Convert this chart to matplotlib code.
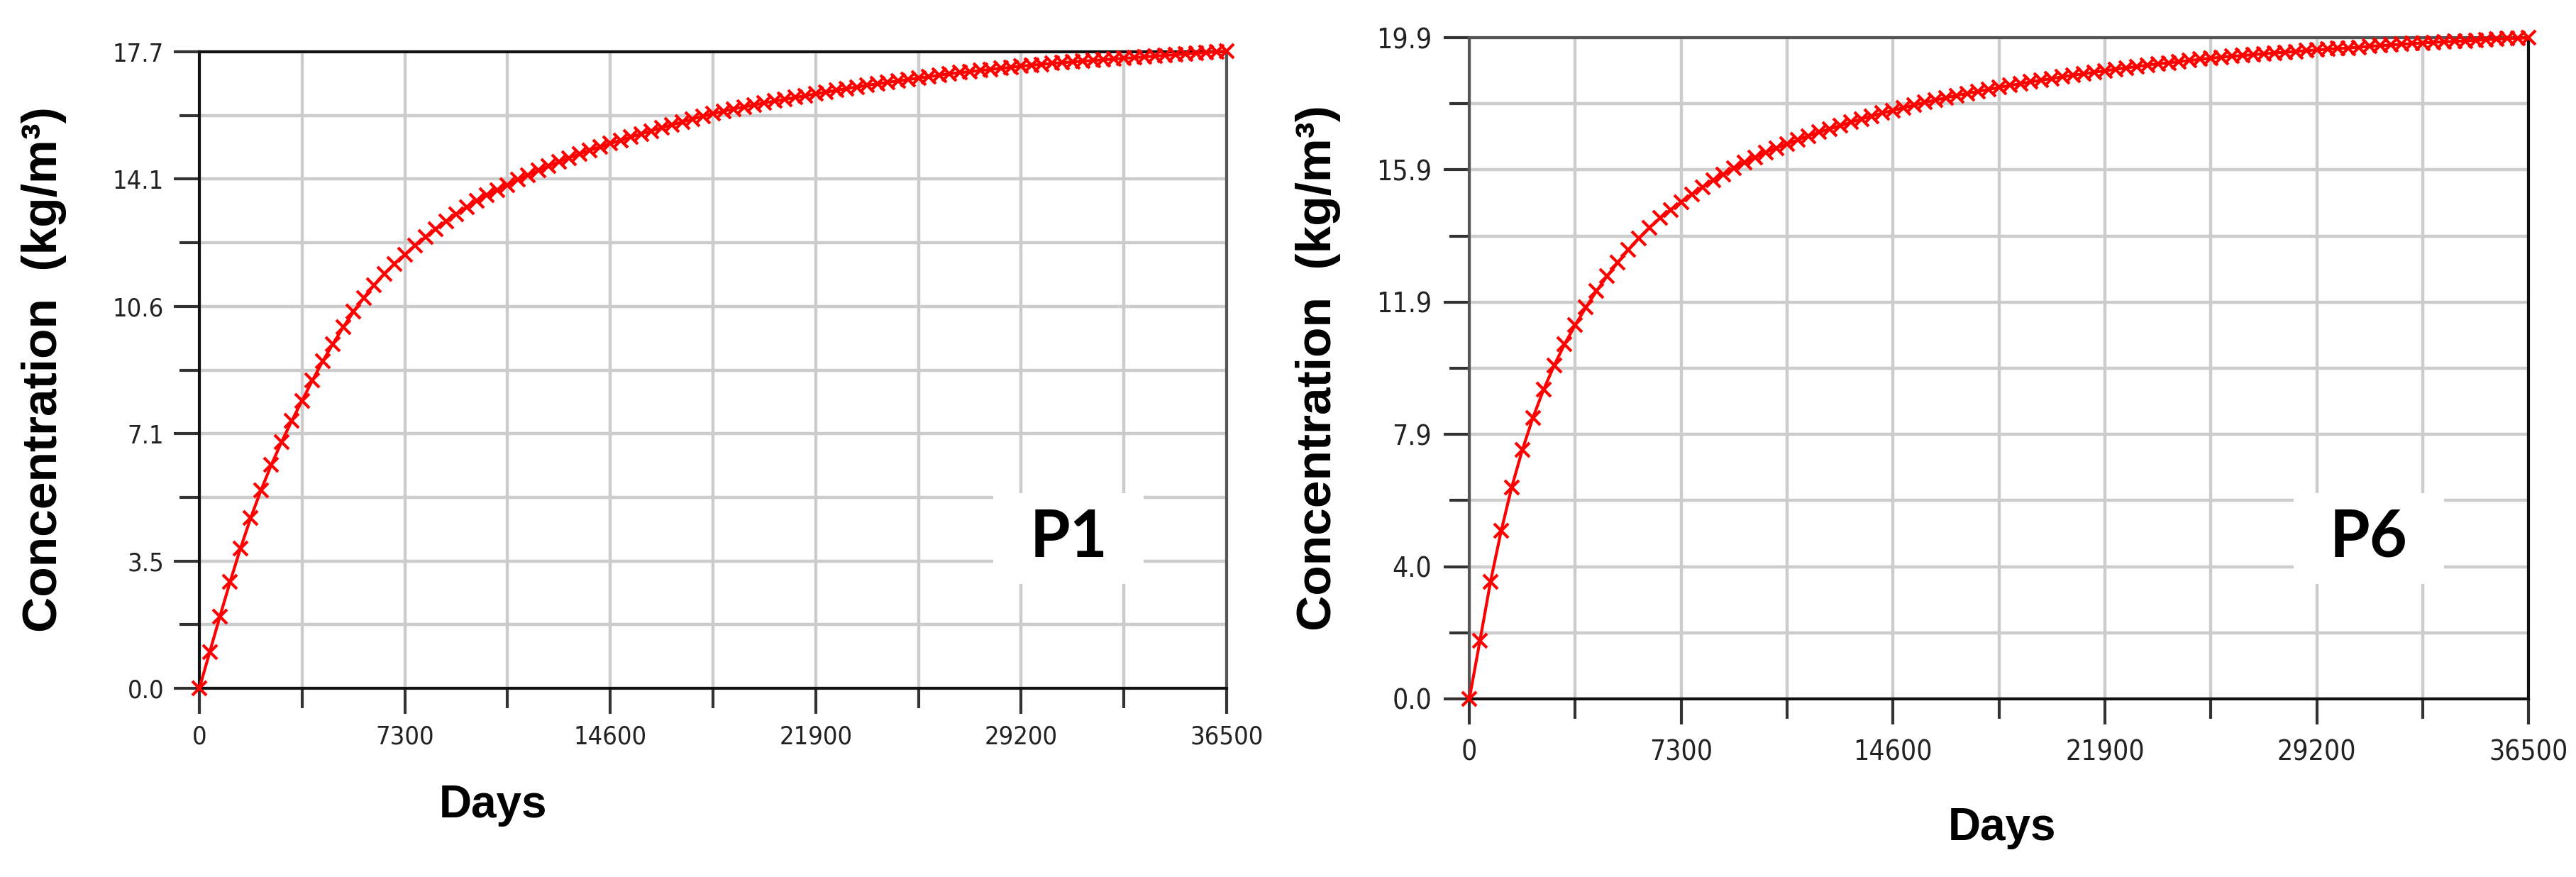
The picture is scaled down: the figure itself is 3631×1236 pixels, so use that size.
import numpy as np
import matplotlib.pyplot as plt
from matplotlib.patches import Rectangle

# sampling times (days), one point per year
days = list(range(0, 36501, 365))

# concentration (kg/m3)
conc_p1 = [0.00,
           1.00, 2.00, 2.97, 3.89, 4.74, 5.51, 6.21, 6.85, 7.44, 8.00,
           8.56, 9.09, 9.58, 10.04, 10.47, 10.86, 11.21, 11.53, 11.81, 12.06,
           12.31, 12.55, 12.77, 12.98, 13.18, 13.37, 13.55, 13.71, 13.86, 14.00,
           14.14, 14.27, 14.40, 14.52, 14.64, 14.75, 14.86, 14.96, 15.06, 15.15,
           15.24, 15.33, 15.42, 15.50, 15.59, 15.67, 15.75, 15.83, 15.91, 15.98,
           16.05, 16.11, 16.17, 16.22, 16.28, 16.33, 16.38, 16.43, 16.48, 16.53,
           16.58, 16.63, 16.68, 16.72, 16.77, 16.81, 16.85, 16.89, 16.93, 16.97,
           17.01, 17.05, 17.09, 17.12, 17.15, 17.18, 17.21, 17.24, 17.27, 17.30,
           17.33, 17.35, 17.38, 17.40, 17.42, 17.44, 17.46, 17.48, 17.50, 17.52,
           17.54, 17.56, 17.58, 17.60, 17.62, 17.64, 17.66, 17.68, 17.70, 17.72]

conc_p6 = [0.00,
           1.75, 3.53, 5.05, 6.37, 7.49, 8.46, 9.30, 10.03, 10.68, 11.25,
           11.78, 12.27, 12.72, 13.13, 13.51, 13.86, 14.18, 14.47, 14.72, 14.95,
           15.18, 15.40, 15.60, 15.79, 15.97, 16.14, 16.30, 16.45, 16.58, 16.70,
           16.82, 16.94, 17.05, 17.15, 17.25, 17.35, 17.45, 17.54, 17.63, 17.71,
           17.79, 17.87, 17.95, 18.02, 18.09, 18.16, 18.22, 18.28, 18.34, 18.40,
           18.46, 18.51, 18.57, 18.62, 18.67, 18.72, 18.77, 18.81, 18.86, 18.90,
           18.95, 18.99, 19.03, 19.07, 19.11, 19.14, 19.18, 19.21, 19.25, 19.28,
           19.31, 19.34, 19.36, 19.39, 19.41, 19.44, 19.46, 19.48, 19.51, 19.53,
           19.55, 19.57, 19.59, 19.61, 19.64, 19.66, 19.68, 19.70, 19.72, 19.74,
           19.76, 19.77, 19.79, 19.80, 19.82, 19.84, 19.85, 19.87, 19.88, 19.90]

x_ticks = [0, 7300, 14600, 21900, 29200, 36500]
x_labels = ['0', '7300', '14600', '21900', '29200', '36500']
y_ticks_p1 = [0.0, 3.54, 7.08, 10.62, 14.16, 17.7]
y_labels_p1 = ['0.0', '3.5', '7.1', '10.6', '14.1', '17.7']
y_ticks_p6 = [0.0, 3.98, 7.96, 11.94, 15.92, 19.9]
y_labels_p6 = ['0.0', '4.0', '7.9', '11.9', '15.9', '19.9']

tick_font = ['Liberation Sans Narrow', 'DejaVu Sans']
lab_font = ['Liberation Sans', 'DejaVu Sans']

fig = plt.figure(figsize=(36.31, 12.36), dpi=100)
ax1 = fig.add_axes([0.0774, 0.2152, 0.3988, 0.7257])
ax2 = fig.add_axes([0.5704, 0.2031, 0.4112, 0.7540])


def style(ax, conc, yt, yl, ymax, spine_cols, fs, xpad, ypad, tag, box):
    ax.set_axisbelow(True)
    ax.plot(days, conc, color='red', marker='x', ms=15, mew=3, lw=3,
            clip_on=False, zorder=3)
    ax.set_xlim(0, 36500)
    ax.set_ylim(0, ymax)
    ax.set_xticks(x_ticks)
    ax.set_xticklabels(x_labels)
    ax.set_xticks([3650 + 7300 * i for i in range(5)], minor=True)
    ax.set_yticks(yt)
    ax.set_yticklabels(yl)
    ax.set_yticks([(yt[i] + yt[i + 1]) / 2 for i in range(5)], minor=True)
    ax.grid(which='both', color='#cccccc', lw=3.2)
    ax.tick_params(which='major', length=26, width=3, color='#333333')
    ax.tick_params(which='minor', length=20, width=3, color='#333333')
    ax.tick_params(axis='x', which='major', pad=xpad)
    ax.tick_params(axis='y', which='major', pad=ypad)
    for lab in ax.get_xticklabels() + ax.get_yticklabels():
        lab.set_family(tick_font)
        lab.set_stretch('condensed')
        lab.set_fontsize(fs)
        lab.set_color('#222222')
    for side, col in zip(['left', 'right', 'top', 'bottom'], spine_cols):
        ax.spines[side].set_color(col)
        ax.spines[side].set_linewidth(3)
    ax.add_patch(Rectangle((box[0], box[1]), box[2], box[3], transform=ax.transAxes,
                           facecolor='white', edgecolor='none', zorder=1))
    ax.text(box[0] + box[2] / 2, box[1] + box[3] / 2, tag, transform=ax.transAxes,
            ha='center', va='center', fontsize=66, fontweight='bold',
            family=['Lato', 'DejaVu Sans'], zorder=2)


style(ax1, conc_p1, y_ticks_p1, y_labels_p1, 17.7,
      ['#111111', '#555555', '#111111', '#111111'], 26, 11, 10, 'P1',
      (0.773, 0.164, 0.146, 0.143))
style(ax2, conc_p6, y_ticks_p6, y_labels_p6, 19.9,
      ['#555555', '#111111', '#555555', '#111111'], 28, 15, 12, 'P6',
      (0.778, 0.174, 0.142, 0.137))

ylab = 'Concentration  (kg/m\u00b3)'
fig.text(62 / 3631, 1 - 521 / 1236, ylab, rotation=90, ha='center', va='center',
         fontsize=50, fontweight='bold', family=lab_font)
fig.text(1858 / 3631, 1 - 519 / 1236, ylab, rotation=90, ha='center', va='center',
         fontsize=50, fontweight='bold', family=lab_font)
fig.text(695 / 3631, 1 - 1135 / 1236, 'Days', ha='center', va='center',
         fontsize=46, fontweight='bold', family=lab_font)
fig.text(2822 / 3631, 1 - 1167 / 1236, 'Days', ha='center', va='center',
         fontsize=46, fontweight='bold', family=lab_font)

fig.savefig('out.png', dpi=100)
